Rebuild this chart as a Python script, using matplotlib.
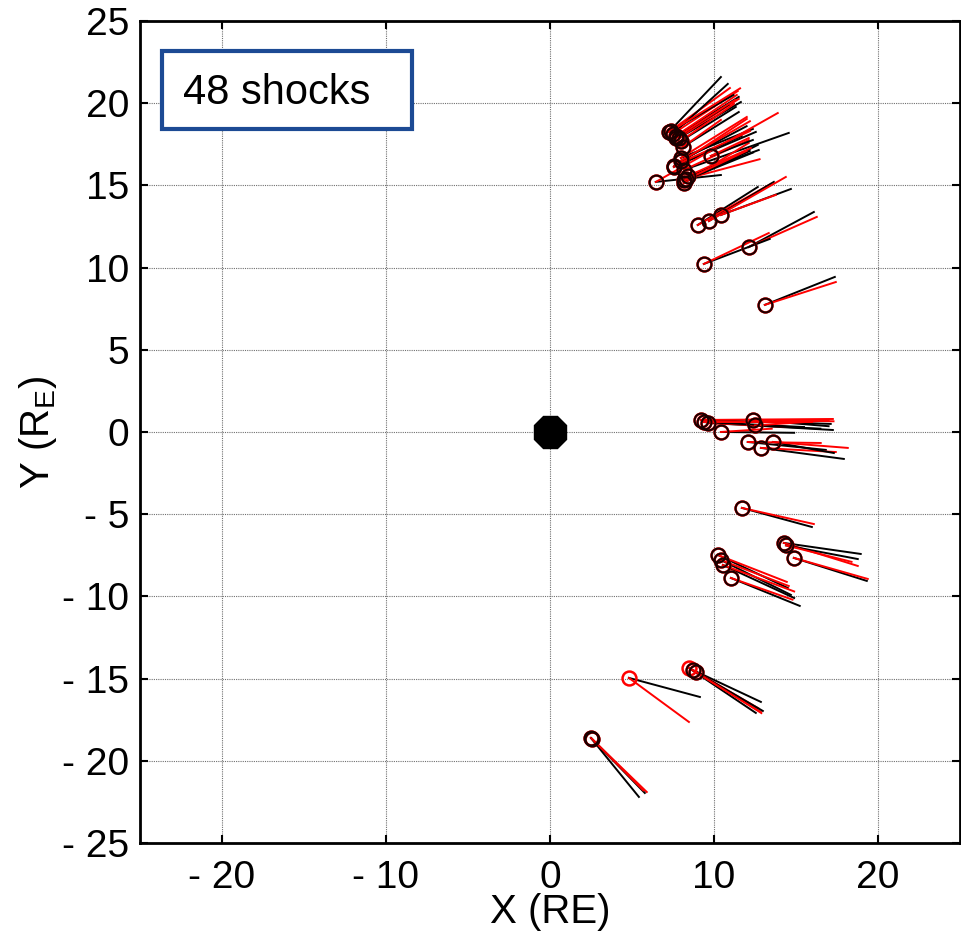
import matplotlib
matplotlib.use('Agg')
import matplotlib.pyplot as plt
import matplotlib.patches as mpatches
import numpy as np

plt.rcParams['font.family'] = ['Liberation Sans', 'DejaVu Sans']

# ── shock positions (RE) ────────────────────────────────────
shock_x = [7.26, 7.50, 7.68, 7.87, 7.99, 8.11, 7.99, 7.56, 8.17, 6.46,
           8.17, 8.41, 9.82, 8.29, 9.02, 9.70, 10.43, 12.13, 9.39, 13.11,
           9.21, 9.63, 10.43, 12.38, 12.07, 12.87, 13.60, 9.40, 11.71, 14.27,
           14.40, 14.88, 10.24, 10.43, 10.55, 11.04, 4.82, 8.48, 8.72, 8.90,
           2.50, 2.55, 7.40, 7.70, 8.00, 8.20, 7.60, 12.50]
shock_y = [18.25, 18.13, 18.00, 17.88, 17.70, 17.34, 16.67, 16.12, 15.94, 15.21,
           15.15, 15.57, 16.79, 15.39, 12.59, 12.83, 13.20, 11.25, 10.22, 7.73,
           0.73, 0.55, 0.00, 0.73, -0.61, -0.97, -0.61, 0.60, -4.62, -6.75,
           -6.90, -7.66, -7.48, -7.79, -8.09, -8.88, -14.96, -14.36, -14.48, -14.60,
           -18.61, -18.65, 18.30, 17.90, 16.50, 15.30, 16.20, 0.40]

# ── shock normals, method 1 (black) and method 2 (red), scaled (RE) ──
black_dx = [3.17, 3.35, 3.84, 3.78, 3.35, 3.41, 4.39, 5.00, 6.40, 3.97,
            4.51, 4.33, 2.56, 3.90, 3.66, 3.96, 4.27, 3.97, 4.02, 4.27,
            7.92, 7.63, 4.47, 4.62, 4.76, 5.06, 3.72, 6.10, 4.27, 4.69,
            4.38, 4.45, 4.27, 4.27, 4.35, 4.20, 4.33, 4.08, 4.15, 4.09,
            2.93, 3.24, 3.80, 3.20, 4.00, 4.20, 4.10, 4.00]
black_dy = [3.34, 3.04, 2.38, 2.19, 2.07, 2.12, 1.76, 2.13, 2.25, 0.42,
            2.31, 1.58, 0.97, 1.70, 2.31, 2.38, 1.58, 2.13, 1.52, 1.70,
            -0.24, -0.43, -0.05, -0.38, -0.48, -0.67, -0.67, -0.30, -1.16, -0.67,
            -0.83, -1.40, -2.01, -2.12, -2.01, -1.70, -1.16, -2.73, -1.94, -2.37,
            -3.59, -3.31, 2.20, 2.00, 2.10, 1.70, 1.80, -0.20]
red_dx = [3.72, 3.96, 3.72, 3.65, 3.23, 2.32, 4.02, 4.45, 3.96, 7.44,
          3.96, 3.85, 2.31, 4.50, 4.46, 4.69, 3.35, 4.15, 3.96, 4.33,
          8.05, 5.07, 3.10, 4.92, 4.45, 4.57, 4.57, 6.60, 4.39, 4.51,
          4.00, 4.51, 4.21, 4.14, 4.35, 3.76, 3.66, 4.39, 3.98, 4.00,
          3.41, 3.15, 4.20, 3.60, 4.20, 3.80, 4.60, 4.50]
red_dy = [2.67, 2.61, 2.50, 2.38, 2.25, 1.64, 2.49, 2.92, 1.82, 4.19,
          2.43, 1.70, 1.09, 1.20, 2.50, 2.68, 1.22, 1.83, 1.88, 1.39,
          0.06, -0.25, 0.20, -0.08, -0.06, -0.25, -0.36, 0.00, -0.98, -1.40,
          -1.00, -1.28, -1.64, -1.58, -1.61, -1.32, -2.68, -2.67, -2.32, -2.50,
          -3.29, -3.15, 2.60, 2.30, 2.40, 1.80, 2.10, 0.30]

# circles drawn in black too (False -> only the red circle shows)
black_circle = [True] * 48
black_circle[36] = False
black_circle[37] = False

n_shocks = 48

xticks = [-20, -10, 0, 10, 20]
xtick_labels = ['- 20', '- 10', '0', '10', '20']
yticks = [25, 20, 15, 10, 5, 0, -5, -10, -15, -20, -25]
ytick_labels = ['25', '20', '15', '10', '5', '0', '- 5', '- 10', '- 15', '- 20', '- 25']

# ── figure ───────────────────────────────────────────────────
fig = plt.figure(figsize=(9.61, 9.36), dpi=100, facecolor='white')
ax = fig.add_axes([0.1457, 0.0994, 0.853, 0.8782])
ax.set_xlim(-25, 25)
ax.set_ylim(-25, 25)

ax.grid(True, color='#707070', linestyle=(0, (1, 1)), linewidth=0.8)
ax.set_axisbelow(True)

# Earth
ax.plot([0], [0], '8', color='black', markersize=25, zorder=3)

# normals
for i in range(n_shocks):
    x0, y0 = shock_x[i], shock_y[i]
    ax.plot([x0, x0 + black_dx[i]], [y0, y0 + black_dy[i]],
            color='black', linewidth=1.4, zorder=4)
    ax.plot([x0, x0 + red_dx[i]], [y0, y0 + red_dy[i]],
            color='red', linewidth=1.4, zorder=4)

# shock locations
ax.plot(shock_x, shock_y, 'o', mfc='none', mec='red', markersize=10, mew=1.8, zorder=5)
bx = [x for x, b in zip(shock_x, black_circle) if b]
by = [y for y, b in zip(shock_y, black_circle) if b]
ax.plot(bx, by, 'o', mfc='none', mec='#1a0000', markersize=10, mew=1.5, zorder=6)

# ticks / spines
ax.set_xticks(xticks)
ax.set_xticklabels(xtick_labels)
ax.set_yticks(yticks)
ax.set_yticklabels(ytick_labels)
ax.tick_params(direction='in', length=6, width=1.5, top=True, right=True,
               labelsize=28, pad=8)
ax.tick_params(axis='x', pad=12)
for s in ax.spines.values():
    s.set_linewidth(2.0)

ax.set_xlabel('X (RE)', fontsize=29, labelpad=-2)
ax.set_ylabel('Y (R$_\\mathregular{E}$)', fontsize=29, labelpad=2)

# label box
ax.add_patch(mpatches.Rectangle((0.027, 0.8686), 0.305, 0.095,
                                transform=ax.transAxes, fill=True,
                                facecolor='white', edgecolor='#1c4a94',
                                linewidth=3.0, zorder=7))
ax.text(0.0524, 0.912, '48 shocks', transform=ax.transAxes, fontsize=30,
        ha='left', va='center', zorder=8)

fig.savefig('out.png', dpi=100, facecolor='white')
